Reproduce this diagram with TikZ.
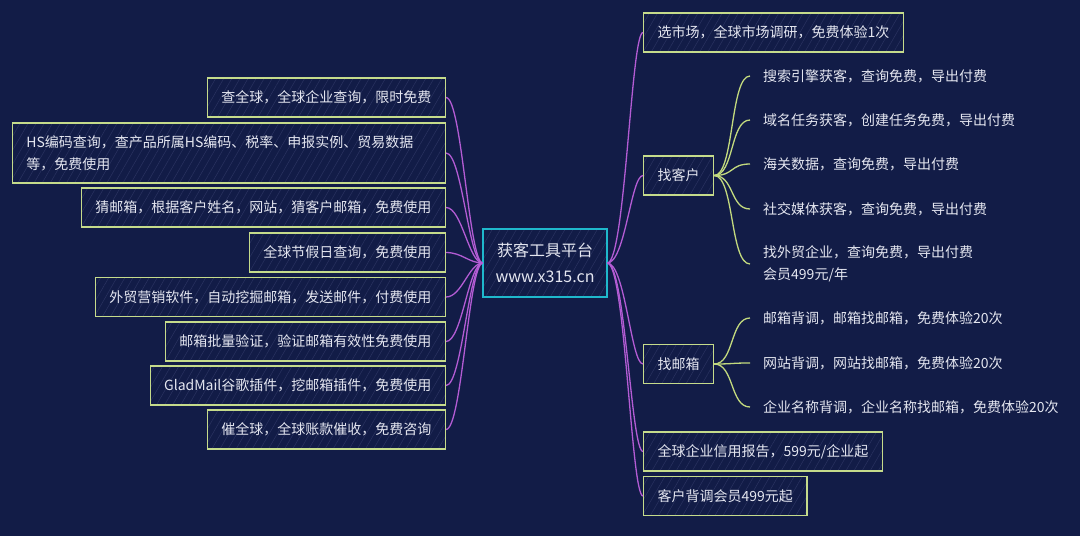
\documentclass[tikz,border=0pt]{standalone}
\usepackage{fontspec}
\setmainfont{Noto Sans CJK SC}
\usetikzlibrary{patterns.meta}
\definecolor{bgnavy}{HTML}{121C47}
\definecolor{boxline}{HTML}{C5DB8B}
\definecolor{rootline}{HTML}{1FB8CC}
\definecolor{branch}{HTML}{B35CD4}
\definecolor{leafline}{HTML}{C2D97E}
\definecolor{txt}{HTML}{E4E6F0}
\definecolor{hatch}{HTML}{2A3360}
\begin{document}
\begin{tikzpicture}[x=1pt,y=-1pt,
	box/.style={draw=boxline,line width=1.2pt,pattern={Lines[angle=60,distance=7pt,line width=0.5pt]},pattern color=hatch,text=txt,inner xsep=14pt,minimum height=39pt,font=\fontsize{14}{22}\selectfont},
	lbox/.style={box,anchor=east},
	rbox/.style={box,anchor=west},
	leaf/.style={anchor=west,text=txt,inner xsep=13pt,align=left,font=\fontsize{14}{22}\selectfont},
	purple/.style={draw=branch,line width=1.3pt},
	green/.style={draw=leafline,line width=1.3pt}]
	\useasboundingbox[fill=bgnavy] (0,0) rectangle (1080,536);
	\node[box,draw=rootline,align=center,minimum width=124pt,minimum height=68pt,inner xsep=6pt,font=\fontsize{16}{26}\selectfont] (root) at (545,263) {获客工具平台\\www.x315.cn};
	\node[lbox] (cqq) at (446,97.5) {查全球，全球企业查询，限时免费};
	\node[lbox,text width=405pt,align=left,minimum height=60pt] (hs) at (446,153) {HS编码查询，查产品所属HS编码、税率、申报实例、贸易数据\\等，免费使用};
	\node[lbox] (cyx) at (446,207.5) {猜邮箱，根据客户姓名，网站，猜客户邮箱，免费使用};
	\node[lbox] (jjr) at (446,252.5) {全球节假日查询，免费使用};
	\node[lbox] (yxrj) at (446,297) {外贸营销软件，自动挖掘邮箱，发送邮件，付费使用};
	\node[lbox] (plyz) at (446,341.5) {邮箱批量验证，验证邮箱有效性免费使用};
	\node[lbox] (glad) at (446,385.5) {GladMail谷歌插件，挖邮箱插件，免费使用};
	\node[lbox] (cuiqq) at (446,429.5) {催全球，全球账款催收，免费咨询};
	\node[rbox] (xsc) at (643,32.5) {选市场，全球市场调研，免费体验1次};
	\node[rbox] (zkh) at (643,175.5) {找客户};
	\node[rbox] (zyx) at (643,364) {找邮箱};
	\node[rbox] (xybg) at (643,451.5) {全球企业信用报告，599元/企业起};
	\node[rbox] (btvip) at (643,496) {客户背调会员499元起};
	\node[leaf] (kh1) at (750,76) {搜索引擎获客，查询免费，导出付费};
	\node[leaf] (kh2) at (750,120) {域名任务获客，创建任务免费，导出付费};
	\node[leaf] (kh3) at (750,164) {海关数据，查询免费，导出付费};
	\node[leaf] (kh4) at (750,209) {社交媒体获客，查询免费，导出付费};
	\node[leaf] (kh5) at (750,264) {找外贸企业，查询免费，导出付费\\会员499元/年};
	\node[leaf] (yx1) at (750,318) {邮箱背调，邮箱找邮箱，免费体验20次};
	\node[leaf] (yx2) at (750,363) {网站背调，网站找邮箱，免费体验20次};
	\node[leaf] (yx3) at (750,407) {企业名称背调，企业名称找邮箱，免费体验20次};
	\draw[purple] (cqq.east) .. controls +(16,0) and +(-14,0) .. (root.west);
	\draw[purple] (hs.east) .. controls +(16,0) and +(-14,0) .. (root.west);
	\draw[purple] (cyx.east) .. controls +(16,0) and +(-14,0) .. (root.west);
	\draw[purple] (jjr.east) .. controls +(16,0) and +(-14,0) .. (root.west);
	\draw[purple] (yxrj.east) .. controls +(16,0) and +(-14,0) .. (root.west);
	\draw[purple] (plyz.east) .. controls +(16,0) and +(-14,0) .. (root.west);
	\draw[purple] (glad.east) .. controls +(16,0) and +(-14,0) .. (root.west);
	\draw[purple] (cuiqq.east) .. controls +(16,0) and +(-14,0) .. (root.west);
	\draw[purple] (root.east) .. controls +(18,0) and +(-12,0) .. (xsc.west);
	\draw[purple] (root.east) .. controls +(18,0) and +(-12,0) .. (zkh.west);
	\draw[purple] (root.east) .. controls +(18,0) and +(-12,0) .. (zyx.west);
	\draw[purple] (root.east) .. controls +(18,0) and +(-12,0) .. (xybg.west);
	\draw[purple] (root.east) .. controls +(18,0) and +(-12,0) .. (btvip.west);
	\draw[green] (zkh.east) .. controls +(20,0) and +(-20,0) .. (kh1.west);
	\draw[green] (zkh.east) .. controls +(20,0) and +(-20,0) .. (kh2.west);
	\draw[green] (zkh.east) .. controls +(20,0) and +(-20,0) .. (kh3.west);
	\draw[green] (zkh.east) .. controls +(20,0) and +(-20,0) .. (kh4.west);
	\draw[green] (zkh.east) .. controls +(20,0) and +(-20,0) .. (kh5.west);
	\draw[green] (zyx.east) .. controls +(20,0) and +(-20,0) .. (yx1.west);
	\draw[green] (zyx.east) .. controls +(20,0) and +(-20,0) .. (yx2.west);
	\draw[green] (zyx.east) .. controls +(20,0) and +(-20,0) .. (yx3.west);
\end{tikzpicture}
\end{document}
